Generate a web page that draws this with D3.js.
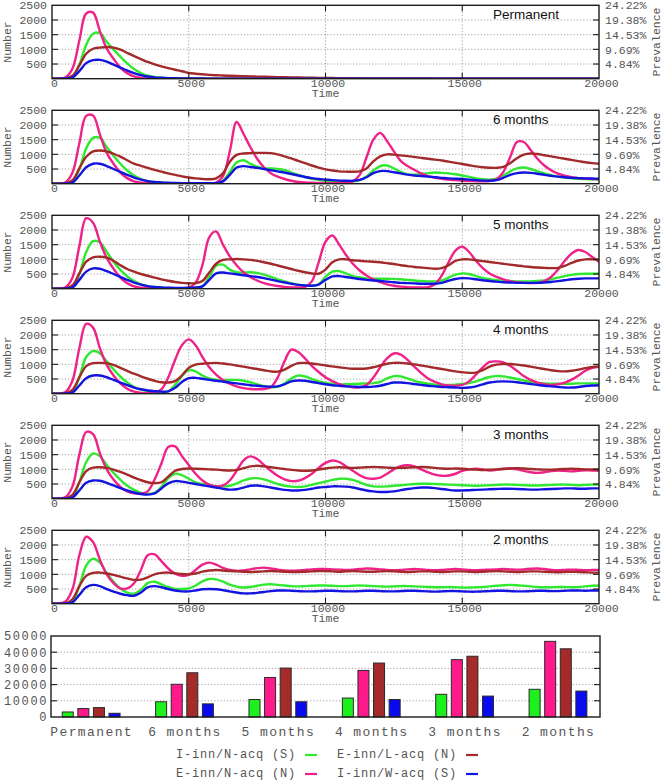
<!DOCTYPE html>
<html><head><meta charset="utf-8">
<script src="https://cdn.jsdelivr.net/npm/d3@7"></script>
<style>body{margin:0;background:#fff}svg{display:block}</style>
</head><body>
<script>
// ---------------- DATA ----------------
const time = d3.range(0, 20001, 250); // sampling grid of the simulation (Time)

const panelTitles = ["Permanent", "6 months", "5 months", "4 months", "3 months", "2 months"];
const seriesNames = ["I-inn/N-acq (S)", "E-inn/N-acq (N)", "E-inn/L-acq (N)", "I-inn/W-acq (S)"];
const xTicks = [0, 5000, 10000, 15000, 20000];
const yTicks = [500, 1000, 1500, 2000, 2500];
const prevLabels = ["4.84%", "9.69%", "14.53%", "19.38%", "24.22%"];

// Permanent
const perm_green = [0,0,5,60,480,1150,1530,1550,1260,1000,750,520,330,190,100,55,30,18,12,8,
 6,5,4,4,3,3,3,2,2,2,2,2,2,1,1,1,1,1,1,1,
 1,1,1,1,1,1,0,0,0,0,0,0,0,0,0,0,0,0,0,0,
 0,0,0,0,0,0,0,0,0,0,0,0,0,0,0,0,0,0,0,0,0];
const perm_pink = [0,5,50,350,1300,2220,2250,1620,1030,680,380,190,80,35,18,10,6,4,3,2,
 2,1,1,1,1,1,1,1,1,1,1,1,1,1,1,1,1,1,1,1,
 0,0,0,0,0,0,0,0,0,0,0,0,0,0,0,0,0,0,0,0,
 0,0,0,0,0,0,0,0,0,0,0,0,0,0,0,0,0,0,0,0,0];
const perm_brown = [0,0,10,100,450,850,1020,1060,1080,1060,990,880,770,670,570,490,420,360,305,255,
 195,170,150,132,118,108,100,92,85,78,72,66,60,55,50,45,40,36,32,28,
 25,22,20,18,16,14,12,11,10,9,8,7,6,6,5,5,4,4,3,3,
 3,3,2,2,2,2,2,2,1,1,1,1,1,1,1,1,1,1,1,1,1];
const perm_blue = [0,0,5,40,260,530,630,640,580,480,380,280,190,120,75,45,30,20,15,10,
 8,6,5,4,3,3,2,2,2,2,1,1,1,1,1,1,1,1,1,1,
 0,0,0,0,0,0,0,0,0,0,0,0,0,0,0,0,0,0,0,0,
 0,0,0,0,0,0,0,0,0,0,0,0,0,0,0,0,0,0,0,0,0];

// 6 months
const m6_green = [0,0,5,60,500,1200,1560,1560,1250,950,680,450,280,160,90,50,30,20,15,12,
 10,10,10,12,20,100,400,720,800,680,580,530,520,500,460,380,300,230,170,130,
 100,80,70,70,80,120,250,450,600,620,520,400,320,310,330,360,380,370,350,320,
 280,230,180,150,140,170,270,420,520,550,500,420,350,290,240,210,180,165,155,150,145];
const m6_pink = [0,5,50,380,1380,2310,2320,1680,1050,680,380,190,80,35,15,8,5,3,2,2,
 2,3,5,8,40,250,1100,2100,1700,1250,850,560,360,240,160,100,60,40,30,25,
 20,20,25,40,80,300,900,1500,1730,1450,1100,780,600,470,350,260,210,170,140,120,
 100,90,85,80,90,150,400,900,1420,1420,1150,850,620,460,340,270,220,190,170,160,150];
const m6_brown = [0,0,10,120,520,920,1100,1130,1100,1020,920,800,680,610,540,470,410,350,300,250,
 210,180,160,150,180,350,750,980,1030,1040,1050,1050,1040,1000,930,860,780,700,620,550,
 490,450,420,410,405,420,520,760,930,1000,990,965,940,910,880,850,820,790,750,710,
 670,630,590,560,545,540,570,700,870,990,1030,1010,970,930,890,850,810,770,730,700,680];
const m6_blue = [0,0,5,40,280,560,680,680,600,500,400,300,210,140,90,60,40,30,25,20,
 18,16,15,15,20,80,300,550,600,570,540,500,460,420,380,330,280,230,190,160,
 140,120,105,100,100,130,220,360,430,430,390,350,310,280,260,240,220,200,180,170,
 160,140,120,105,100,120,200,300,360,380,370,340,300,270,240,220,200,190,180,175,170];

// 5 months
const m5_green = [0,0,5,60,500,1250,1620,1580,1250,920,640,420,260,150,90,55,35,25,20,20,
 20,30,80,400,780,820,650,560,550,560,540,480,400,320,250,190,140,110,100,150,
 400,580,600,520,430,380,350,340,340,340,330,320,300,280,260,250,250,280,380,480,
 520,500,430,370,320,290,270,260,250,250,250,260,280,320,380,430,470,500,510,510,520];
const m5_pink = [0,5,50,380,1450,2400,2250,1600,1050,680,380,190,80,35,15,8,5,3,3,5,
 30,200,800,1750,1950,1500,1100,800,560,400,280,190,130,90,60,45,40,60,250,900,
 1600,1810,1500,1150,850,620,450,320,220,150,100,70,50,40,40,50,150,450,900,1300,
 1430,1250,950,700,520,400,320,260,220,200,190,200,260,400,650,950,1200,1320,1250,1080,920];
const m5_brown = [0,0,10,120,520,920,1070,1090,1060,950,800,670,580,500,440,380,320,270,230,200,
 185,190,260,550,850,980,1000,1010,1000,980,950,900,850,790,730,670,610,560,520,510,
 650,900,1000,1000,970,950,930,920,900,870,840,800,770,740,720,700,680,700,800,950,
 1000,1000,970,940,910,880,850,820,790,760,740,720,710,700,710,780,880,960,1000,1000,990];
const m5_blue = [0,0,5,40,300,580,690,680,600,500,400,300,210,140,90,60,40,30,25,25,
 30,40,80,300,520,550,520,490,460,430,400,360,310,260,210,170,130,110,100,140,
 300,420,430,400,360,330,300,280,260,240,220,200,190,180,170,170,170,200,270,330,
 360,350,320,290,260,240,220,210,200,200,200,200,210,230,260,290,320,340,350,350,350];

// 4 months
const m4_green = [0,0,5,70,560,1250,1450,1380,1100,830,580,380,230,140,90,60,50,80,300,600,
 800,760,620,520,470,460,470,470,440,390,320,260,220,230,350,520,620,590,500,420,
 370,340,320,320,330,340,350,360,400,520,600,590,520,440,380,340,310,300,300,310,
 330,360,420,500,570,600,590,550,500,450,400,370,350,340,340,340,340,350,350,350,350];
const m4_pink = [0,5,60,450,1550,2380,2250,1550,980,620,350,170,70,30,15,30,150,550,1150,1650,
 1850,1650,1250,900,650,470,340,250,190,160,150,160,220,550,1100,1500,1420,1200,950,740,
 560,430,330,260,220,220,300,550,900,1200,1370,1330,1150,920,700,520,400,320,280,270,
 300,420,650,900,1080,1100,1070,950,780,600,470,380,320,300,320,380,480,620,780,880,920];
const m4_brown = [0,0,10,130,560,940,1040,1050,1040,980,880,780,680,590,510,440,390,380,430,620,
 880,990,1020,1040,1050,1030,1000,960,920,880,840,800,760,750,820,950,1040,1050,1030,1000,
 960,930,900,870,850,850,860,900,960,1020,1050,1050,1030,1000,960,920,880,840,800,760,
 730,710,720,800,920,990,1010,1010,990,960,920,880,840,800,770,760,780,820,870,910,930];
const m4_blue = [0,0,5,40,280,530,620,620,560,470,380,290,210,150,110,85,70,80,200,400,
 530,540,510,470,440,410,380,350,320,290,270,250,240,250,320,420,450,440,400,360,
 320,290,270,250,240,230,230,240,270,330,380,380,360,330,300,270,250,230,220,210,
 200,210,250,320,380,410,420,410,390,360,330,300,270,250,230,210,210,230,260,280,290];

// 3 months
const m3_green = [0,0,5,70,560,1250,1540,1450,1150,880,640,440,300,200,160,200,400,700,850,800,
 680,560,500,460,430,420,440,520,620,690,700,660,580,500,440,410,400,420,470,530,
 580,640,680,680,640,560,470,420,410,420,440,460,480,500,510,510,500,490,480,470,
 460,450,440,450,460,470,480,480,470,460,450,450,460,470,480,480,470,460,470,480,480];
const m3_pink = [0,5,60,420,1500,2270,2200,1550,1000,650,400,250,180,170,250,650,1200,1760,1780,1450,
 1150,850,620,480,420,450,620,950,1300,1440,1350,1150,950,780,660,600,610,700,850,1050,
 1220,1300,1250,1100,950,800,700,680,720,850,1000,1110,1140,1100,1000,900,820,780,790,850,
 950,1000,1020,1000,960,980,1020,1030,1000,950,900,880,900,940,960,950,930,950,970,960,950];
const m3_brown = [0,0,10,130,560,940,1060,1070,1050,990,910,820,720,630,560,530,560,750,950,1010,
 1030,1020,1010,1000,990,970,960,980,1040,1100,1120,1100,1070,1040,1010,980,960,950,960,990,
 1030,1060,1070,1060,1050,1060,1070,1080,1070,1060,1050,1050,1060,1070,1080,1070,1050,1030,1020,1030,
 1020,1000,990,980,990,1000,1010,1030,1040,1030,1010,1000,990,990,1000,1010,1020,1010,1000,1000,1000];
const m3_blue = [0,0,5,40,280,540,620,610,540,450,360,280,210,160,140,180,350,520,600,580,
 540,500,460,420,380,340,310,320,380,440,450,420,380,340,300,280,280,300,340,380,
 400,420,420,410,380,330,280,250,230,230,250,290,330,360,380,380,360,330,300,280,
 280,290,300,310,320,330,340,340,330,320,310,310,320,330,340,350,350,340,340,350,350];

// 2 months
const m2_green = [0,0,5,80,600,1300,1530,1400,1050,750,520,380,340,480,700,750,660,560,500,500,
 520,620,760,840,830,750,650,580,550,570,610,650,660,640,620,600,590,600,610,620,
 620,610,600,600,610,620,610,600,590,580,590,600,600,590,580,570,560,560,570,560,
 550,550,560,570,590,610,630,640,630,610,590,570,560,560,570,570,560,570,590,610,620];
const m2_pink = [0,10,80,500,1650,2280,2100,1500,1000,700,520,520,700,1150,1650,1680,1450,1200,1020,950,
 980,1150,1330,1400,1330,1220,1150,1120,1130,1170,1210,1230,1200,1160,1130,1120,1130,1150,1170,1180,
 1180,1170,1160,1150,1160,1180,1200,1190,1170,1150,1140,1150,1170,1180,1170,1150,1140,1150,1170,1180,
 1170,1150,1140,1150,1160,1170,1180,1170,1160,1170,1190,1200,1180,1150,1140,1150,1160,1150,1140,1150,1150];
const m2_brown = [0,0,15,150,600,950,1050,1060,1030,980,920,860,810,820,900,1000,1050,1060,1040,1010,
 1000,1030,1090,1130,1150,1130,1110,1100,1090,1080,1090,1100,1110,1100,1090,1080,1080,1090,1100,1110,
 1110,1100,1090,1100,1110,1100,1090,1090,1100,1110,1100,1090,1080,1090,1100,1100,1090,1080,1090,1100,
 1100,1090,1080,1090,1100,1110,1100,1090,1080,1090,1100,1100,1090,1080,1070,1080,1090,1080,1070,1060,1060];
const m2_blue = [0,0,5,50,300,560,640,600,500,410,340,290,270,380,560,600,560,500,450,420,
 420,450,490,500,490,460,420,380,350,350,370,400,430,450,450,440,430,420,420,430,
 440,440,430,420,420,430,440,440,430,420,420,430,440,440,430,420,410,420,430,430,
 420,410,410,420,430,440,440,430,420,420,430,440,440,430,430,440,450,450,440,450,450];

// Bar chart
const barCategories = ["Permanent", "6 months", "5 months", "4 months", "3 months", "2 months"];
const barGreen = [3100, 9400, 10800, 11700, 14000, 17100];
const barPink  = [5200, 20200, 24400, 28750, 35400, 46700];
const barBrown = [5800, 27300, 30200, 33300, 37500, 42100];
const barBlue  = [2300, 8100, 9400, 10800, 12900, 16000];
const barTicks = [0, 10000, 20000, 30000, 40000, 50000];

// ---------------- DRAW ----------------
const panels = [
  [perm_green, perm_pink, perm_brown, perm_blue],
  [m6_green, m6_pink, m6_brown, m6_blue],
  [m5_green, m5_pink, m5_brown, m5_blue],
  [m4_green, m4_pink, m4_brown, m4_blue],
  [m3_green, m3_pink, m3_brown, m3_blue],
  [m2_green, m2_pink, m2_brown, m2_blue]
];
const lineColors = ["#30e830", "#ee2288", "#a32a2a", "#1414e0"];
const barColors  = ["#1ef01e", "#ff1a8c", "#a52a2a", "#0a0af0"];

const W = 662, H = 782;
const mono = "'Liberation Mono','DejaVu Sans Mono',monospace";
const sans = "'Liberation Sans',Arial,sans-serif";
const textCol = "#555";
const gridCol = "#8c8c8c";
const frameCol = "#1c1c1c";
const intFmt = d3.format("d");

const svg = d3.select("body").append("svg").attr("width", W).attr("height", H);
const defs = svg.append("defs");

const x = d3.scaleLinear().domain([0, 20000]).range([52, 599]);

function styleAxis(ax, size, spacing) {
  ax.select(".domain").remove();
  ax.selectAll("text").attr("font-family", mono).attr("font-size", size)
    .attr("fill", textCol).style("letter-spacing", spacing ? spacing + "px" : null);
}

panels.forEach((ser, i) => {
  const top = 5.3 + 105 * i, bot = top + 73.4;
  const y = d3.scaleLinear().domain([0, 2500]).range([bot, top]);
  const g = svg.append("g");

  // grid
  g.append("g").selectAll("line").data(yTicks.slice(0, 4)).join("line")
    .attr("x1", x(0)).attr("x2", x(20000)).attr("y1", d => y(d)).attr("y2", d => y(d))
    .attr("stroke", gridCol).attr("stroke-width", 0.8).attr("stroke-dasharray", "1.2,2");
  g.append("g").selectAll("line").data(xTicks.slice(1, 4)).join("line")
    .attr("x1", d => x(d)).attr("x2", d => x(d)).attr("y1", top).attr("y2", bot)
    .attr("stroke", gridCol).attr("stroke-width", 0.8).attr("stroke-dasharray", "1.2,2");

  // lines
  const cid = "clip" + i;
  defs.append("clipPath").attr("id", cid).append("rect")
    .attr("x", x(0)).attr("y", top).attr("width", x(20000) - x(0)).attr("height", bot - top);
  const line = d3.line().x((d, j) => x(time[j])).y(d => y(d)).curve(d3.curveCatmullRom.alpha(0.5));
  const lg = g.append("g").attr("clip-path", `url(#${cid})`);
  ser.forEach((s, k) => {
    lg.append("path").datum(s).attr("d", line).attr("fill", "none")
      .attr("stroke", lineColors[k]).attr("stroke-width", 2.4)
      .attr("stroke-linejoin", "round").attr("stroke-linecap", "round");
  });

  // frame
  g.append("rect").attr("x", x(0)).attr("y", top).attr("width", x(20000) - x(0)).attr("height", bot - top)
    .attr("fill", "none").attr("stroke", frameCol).attr("stroke-width", 1.4);

  // inward ticks
  const tk = g.append("g").attr("stroke", frameCol).attr("stroke-width", 1.1);
  yTicks.slice(0, 4).forEach(v => {
    tk.append("line").attr("x1", x(0)).attr("x2", x(0) + 6).attr("y1", y(v)).attr("y2", y(v));
    tk.append("line").attr("x1", x(20000) - 6).attr("x2", x(20000)).attr("y1", y(v)).attr("y2", y(v));
  });
  xTicks.slice(1, 4).forEach(v => {
    tk.append("line").attr("x1", x(v)).attr("x2", x(v)).attr("y1", bot).attr("y2", bot - 6);
    tk.append("line").attr("x1", x(v)).attr("x2", x(v)).attr("y1", top).attr("y2", top + 6);
  });

  // axes
  const axB = g.append("g").attr("transform", `translate(2,${bot})`)
    .call(d3.axisBottom(x).tickValues(xTicks).tickFormat(intFmt).tickSize(0).tickPadding(0.5));
  styleAxis(axB, 11.5);
  const axL = g.append("g").attr("transform", `translate(${x(0)},0)`)
    .call(d3.axisLeft(y).tickValues(yTicks).tickFormat(intFmt).tickSize(0).tickPadding(5));
  styleAxis(axL, 11.5);
  const axR = g.append("g").attr("transform", `translate(${x(20000)},0)`)
    .call(d3.axisRight(y).tickValues(yTicks).tickFormat((d, j) => prevLabels[j]).tickSize(0).tickPadding(6));
  styleAxis(axR, 11.5);

  // labels
  const mid = (top + bot) / 2;
  g.append("text").attr("transform", `translate(7.5,${mid}) rotate(-90)`)
    .attr("text-anchor", "middle").attr("dominant-baseline", "central")
    .attr("font-family", mono).attr("font-size", 11.5).attr("fill", textCol).text("Number");
  g.append("text").attr("transform", `translate(656.5,${mid}) rotate(-90)`)
    .attr("text-anchor", "middle").attr("dominant-baseline", "central")
    .attr("font-family", mono).attr("font-size", 11.5).attr("fill", textCol).text("Prevalence");
  g.append("text").attr("x", x(10000)).attr("y", bot + 18).attr("text-anchor", "middle")
    .attr("font-family", mono).attr("font-size", 11.5).attr("fill", textCol).text("Time");
  g.append("text").attr("x", 493).attr("y", top + 13.8)
    .attr("font-family", sans).attr("font-size", 13.5).attr("fill", "#111").text(panelTitles[i]);
});

// ---------------- BAR CHART ----------------
const bTop = 636, bBot = 717;
const yb = d3.scaleLinear().domain([0, 50000]).range([bBot, bTop]);
const xb = d3.scaleLinear().domain([-0.43, 5.45]).range([51, 600]);
const bg = svg.append("g");

bg.append("g").selectAll("line").data(barTicks.slice(1, 5)).join("line")
  .attr("x1", xb(-0.43)).attr("x2", xb(5.45)).attr("y1", d => yb(d)).attr("y2", d => yb(d))
  .attr("stroke", gridCol).attr("stroke-width", 0.8).attr("stroke-dasharray", "1.2,2");

const barSeries = [barGreen, barPink, barBrown, barBlue];
const barStep = 0.167, barW = 0.118;
barSeries.forEach((vals, k) => {
  bg.append("g").selectAll("rect").data(vals).join("rect")
    .attr("x", (d, i) => xb(i + (k - 1.5) * barStep - barW / 2))
    .attr("width", xb(barW) - xb(0))
    .attr("y", d => yb(d)).attr("height", d => yb(0) - yb(d))
    .attr("fill", barColors[k]).attr("stroke", "#2a2a2a").attr("stroke-width", 1);
});

bg.append("rect").attr("x", xb(-0.43)).attr("y", bTop).attr("width", xb(5.45) - xb(-0.43)).attr("height", bBot - bTop)
  .attr("fill", "none").attr("stroke", frameCol).attr("stroke-width", 1.4);
const btk = bg.append("g").attr("stroke", frameCol).attr("stroke-width", 1.1);
barTicks.slice(1, 5).forEach(v => {
  btk.append("line").attr("x1", xb(-0.43)).attr("x2", xb(-0.43) + 6).attr("y1", yb(v)).attr("y2", yb(v));
  btk.append("line").attr("x1", xb(5.45) - 6).attr("x2", xb(5.45)).attr("y1", yb(v)).attr("y2", yb(v));
});

const bAxL = bg.append("g").attr("transform", `translate(${xb(-0.43)},0)`)
  .call(d3.axisLeft(yb).tickValues(barTicks).tickFormat(intFmt).tickSize(0).tickPadding(3));
styleAxis(bAxL, 12, 1.6);
const bAxB = bg.append("g").attr("transform", `translate(0,${bBot})`)
  .call(d3.axisBottom(xb).tickValues(d3.range(barCategories.length)).tickFormat(i => barCategories[i]).tickSize(0).tickPadding(10));
styleAxis(bAxB, 13, 1.4);

// ---------------- LEGEND ----------------
const legendItems = [
  {name: seriesNames[0], color: lineColors[0], col: 0, row: 0},
  {name: seriesNames[1], color: lineColors[1], col: 0, row: 1},
  {name: seriesNames[2], color: lineColors[2], col: 1, row: 0},
  {name: seriesNames[3], color: lineColors[3], col: 1, row: 1}
];
const legTextX = [296, 457], legY = [755, 774];
const lgd = svg.append("g");
legendItems.forEach(it => {
  const tx = legTextX[it.col], ty = legY[it.row];
  lgd.append("text").attr("x", tx).attr("y", ty).attr("text-anchor", "end").attr("dominant-baseline", "central")
    .attr("font-family", mono).attr("font-size", 12).attr("fill", textCol).style("letter-spacing", "0.8px").text(it.name);
  lgd.append("line").attr("x1", tx + 9).attr("x2", tx + 21).attr("y1", ty).attr("y2", ty)
    .attr("stroke", it.color).attr("stroke-width", 2.2);
});
</script>
</body></html>
